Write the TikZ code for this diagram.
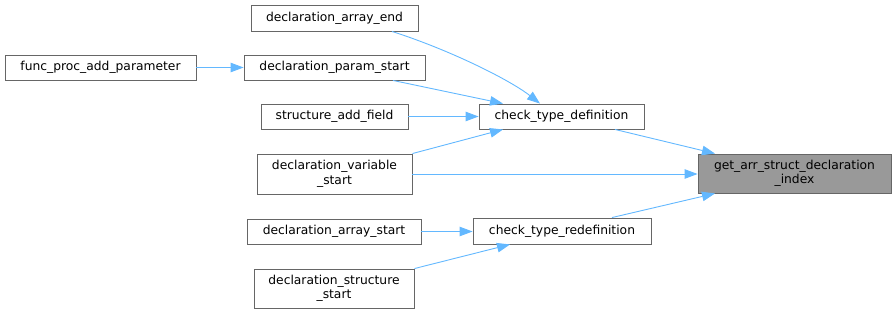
\documentclass[tikz,border=0pt]{standalone}
\usepackage{fontspec}
\setmainfont{DejaVu Sans}
\usetikzlibrary{arrows.meta}

\definecolor{edgeblue}{HTML}{63B8FF}
\definecolor{boxline}{HTML}{666666}
\definecolor{boxfill}{HTML}{999999}

\tikzset{
    fn/.style={draw=boxline, fill=white, line width=0.9pt, inner sep=0pt,
        font=\fontsize{12.3}{14.5}\selectfont, align=center},
    root/.style={fn, fill=boxfill},
    edge/.style={draw=edgeblue, line width=0.9pt,
        -{Triangle[length=13pt,width=9.5pt]}}
}

\begin{document}
\begin{tikzpicture}[x=1pt,y=-1pt]
    \useasboundingbox (0,0) rectangle (896,314);

    % the function itself and its direct callers
    \node[root, minimum width=193pt, minimum height=39pt] (getidx) at (794.5,173.5) {get\_arr\_struct\_declaration\\\_index};
    \node[fn, minimum width=165pt, minimum height=25pt] (ctdef) at (561.5,116.5) {check\_type\_definition};
    \node[fn, minimum width=178pt, minimum height=26pt] (ctredef) at (562,231) {check\_type\_redefinition};

    % second level
    \node[fn, minimum width=167pt, minimum height=26pt] (dae) at (334.5,18) {declaration\_array\_end};
    \node[fn, minimum width=181pt, minimum height=25pt] (dps) at (334.5,67.5) {declaration\_param\_start};
    \node[fn, minimum width=147pt, minimum height=25pt] (saf) at (334.5,116.5) {structure\_add\_field};
    \node[fn, minimum width=155pt, minimum height=40pt] (dvs) at (334.5,174) {declaration\_variable\\\_start};
    \node[fn, minimum width=174pt, minimum height=25pt] (das) at (334,231.5) {declaration\_array\_start};
    \node[fn, minimum width=160pt, minimum height=39pt] (dss) at (334,288.5) {declaration\_structure\\\_start};

    % third level
    \node[fn, minimum width=191pt, minimum height=25pt] (fpap) at (100.5,67.5) {func\_proc\_add\_parameter};

    % calls
    \draw[edge] ([xshift=57.5pt]dae.south) .. controls (450,50) and (510,80) .. ([xshift=-21.5pt]ctdef.north);
    \draw[edge] ([xshift=58.5pt]dps.south) -- ([xshift=-58.5pt]ctdef.north);
    \draw[edge] (saf.east) -- (ctdef.west);
    \draw[edge] (dvs.north east) -- ([xshift=-58.5pt]ctdef.south);
    \draw[edge] (dvs.east) -- (dvs.east -| getidx.west);
    \draw[edge] ([xshift=53.5pt]ctdef.south) -- ([xshift=-79.5pt]getidx.north);
    \draw[edge] ([xshift=50pt]ctredef.north) -- ([xshift=-79.5pt]getidx.south);
    \draw[edge] (das.east) -- (das.east -| ctredef.west);
    \draw[edge] (dss.north east) -- ([xshift=-52pt]ctredef.south);
    \draw[edge] (fpap.east) -- (dps.west);
\end{tikzpicture}
\end{document}
